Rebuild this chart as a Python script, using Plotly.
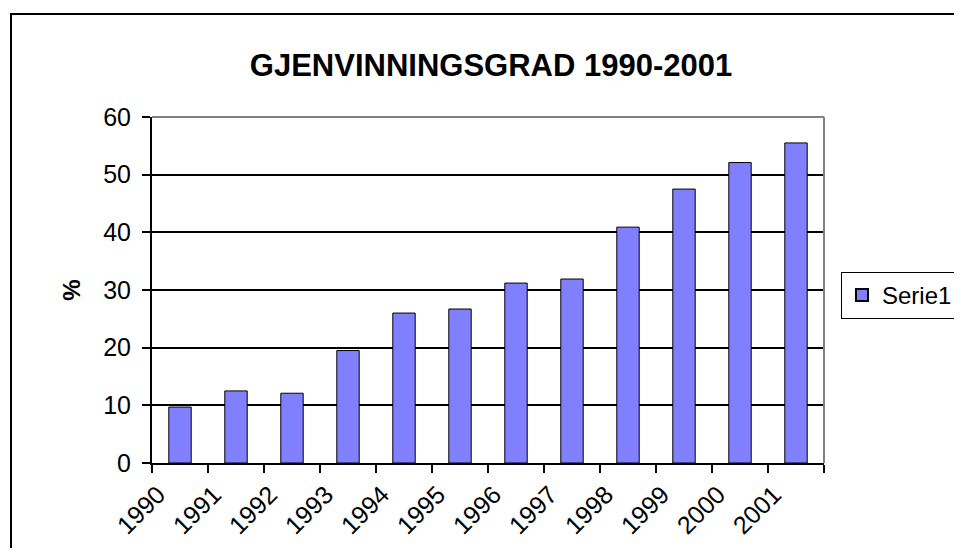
import plotly.graph_objects as go

years = ["1990", "1991", "1992", "1993", "1994", "1995", "1996", "1997", "1998", "1999", "2000", "2001"]
serie1 = [9.7, 12.5, 12.1, 19.5, 26.0, 26.7, 31.2, 31.9, 40.9, 47.5, 52.1, 55.5]
y_ticks = [0, 10, 20, 30, 40, 50, 60]
series_name = "Serie1"
title_text = "GJENVINNINGSGRAD 1990-2001"
y_title = "%"

FONT = "Arial, Liberation Sans, sans-serif"

# The page body has an 8px default margin; size the figure so it fits the window.
OFF = 8
W, H = 962 - 2 * OFF, 556 - 2 * OFF
L, R, T, B = 152 - OFF, 824 - OFF, 117 - OFF, 463 - OFF

fig = go.Figure()
fig.add_trace(go.Bar(
    x=years, y=serie1, name=series_name,
    marker=dict(color="#8080FF", line=dict(color="black", width=1)),
))

fig.update_layout(
    width=W, height=H,
    margin=dict(l=L, r=W - R, t=T, b=H - B, pad=0, autoexpand=False),
    paper_bgcolor="white", plot_bgcolor="white",
    bargap=0.6,
    showlegend=True,
    font=dict(family=FONT, size=24, color="black"),
    title=dict(text="<b>" + title_text + "</b>", font=dict(family=FONT, size=31, color="black"),
               x=(491 - OFF) / W, xref="container", xanchor="center",
               y=1 - (65 - OFF) / H, yref="container", yanchor="middle"),
    legend=dict(x=(841 - OFF - L) / (R - L), y=(B - (272 - OFF)) / (B - T),
                xanchor="left", yanchor="top",
                bordercolor="black", borderwidth=1, bgcolor="white",
                font=dict(family=FONT, size=24, color="black"),
                itemsizing="constant"),
    xaxis=dict(type="category", tickson="boundaries", ticks="outside", ticklen=8,
               tickcolor="black", tickwidth=1.5, showline=True, linecolor="black", linewidth=2,
               showgrid=False, tickangle=-45, ticklabelshift=-22, ticklabelstandoff=5,
               tickfont=dict(family=FONT, size=25, color="black")),
    yaxis=dict(range=[0, 60], tickvals=y_ticks, ticks="outside", ticklen=8,
               tickcolor="black", tickwidth=1.5, showline=True, linecolor="black", linewidth=2,
               showgrid=True, gridcolor="black", gridwidth=1.5, zeroline=False,
               ticklabelstandoff=6,
               tickfont=dict(family=FONT, size=25, color="black"),
               title=dict(text="<b>" + y_title + "</b>", standoff=16,
                          font=dict(family=FONT, size=24, color="black"))),
    shapes=[
        dict(type="line", xref="paper", yref="paper", x0=0, x1=1, y0=1, y1=1,
             line=dict(color="#808080", width=2), layer="above"),
        dict(type="line", xref="paper", yref="paper", x0=1, x1=1, y0=0, y1=1,
             line=dict(color="#808080", width=2), layer="above"),
        dict(type="rect", xref="paper", yref="paper",
             x0=(11 - OFF - L) / (R - L), x1=1.4, y0=-0.5, y1=(B - (14 - OFF)) / (B - T),
             line=dict(color="black", width=2), layer="below"),
    ],
)

fig.write_html("out.html")
